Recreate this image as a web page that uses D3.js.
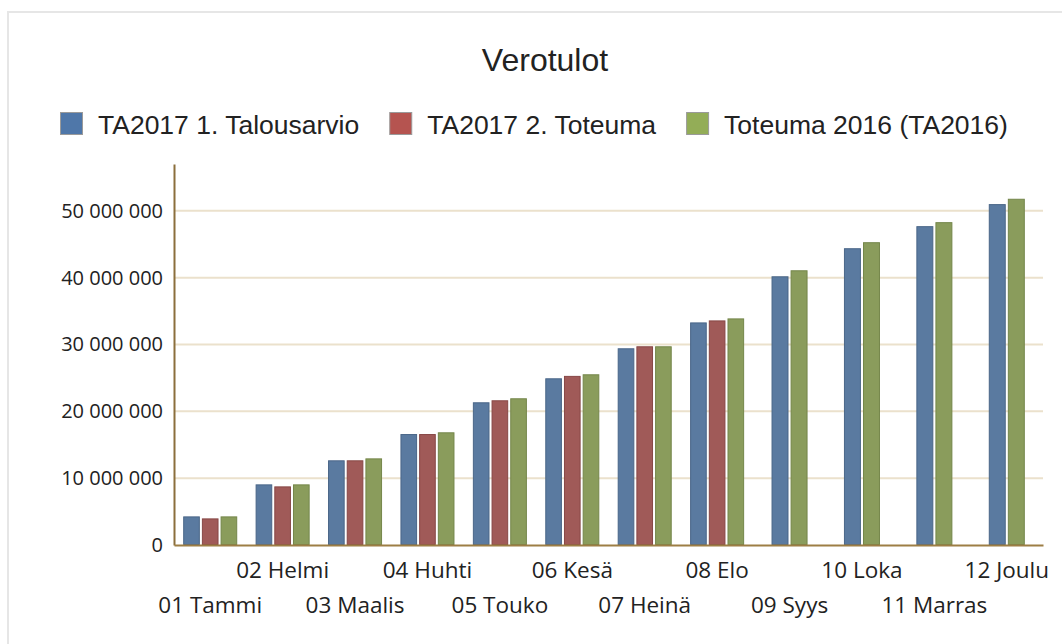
<!DOCTYPE html>
<html>
<head>
<meta charset="utf-8">
<script src="https://cdn.jsdelivr.net/npm/d3@7"></script>
<style>
  body { margin: 0; background: #fff; }
  svg { display: block; }
</style>
</head>
<body>
<div id="chart"></div>
<script>
// data
const months = ["01 Tammi", "02 Helmi", "03 Maalis", "04 Huhti", "05 Touko", "06 Kesä",
                "07 Heinä", "08 Elo", "09 Syys", "10 Loka", "11 Marras", "12 Joulu"];
const seriesNames = ["TA2017 1. Talousarvio", "TA2017 2. Toteuma", "Toteuma 2016 (TA2016)"];
const talousarvio = [4280000, 9070000, 12670000, 16600000, 21350000, 24940000,
                     29430000, 33300000, 40200000, 44400000, 47700000, 51000000];
const toteuma = [3980000, 8770000, 12670000, 16600000, 21650000, 25300000,
                 29730000, 33600000, null, null, null, null];
const toteuma2016 = [4280000, 9070000, 12960000, 16860000, 21950000, 25540000,
                     29730000, 33900000, 41100000, 45300000, 48300000, 51800000];
const yTicks = [0, 10000000, 20000000, 30000000, 40000000, 50000000];

const width = 1062;
const height = 644;
const margin = { top: 164, right: 19, bottom: 99, left: 174 };

const barColors = ["#5a7aa0", "#a05a58", "#8a9c5c"];
const barStroke = ["#4a6688", "#874746", "#74864a"];
const legendColors = ["#4f77a9", "#b55450", "#93ad57"];

const values = [talousarvio, toteuma, toteuma2016];

const fi = d3.formatLocale({ decimal: ",", thousands: " ", grouping: [3], currency: ["", " €"] });
const fmt = fi.format(",");

const svg = d3.select("#chart")
    .append("svg")
    .attr("width", width)
    .attr("height", height);

// panel border
svg.append("rect")
    .attr("x", 8).attr("y", 12)
    .attr("width", 1100).attr("height", 700)
    .attr("fill", "#fff")
    .attr("stroke", "#e6e6e6")
    .attr("stroke-width", 2);

// title
svg.append("text")
    .attr("x", 545)
    .attr("y", 71)
    .attr("text-anchor", "middle")
    .attr("font-family", "Liberation Sans, Arial, sans-serif")
    .attr("font-size", 32)
    .attr("fill", "#222")
    .text("Verotulot");

// scales
const y = d3.scaleLinear()
    .domain([0, 57000000])
    .range([height - margin.bottom, margin.top]);

const x = d3.scaleBand()
    .domain(months)
    .range([margin.left, width - margin.right])
    .paddingInner(0.254)
    .paddingOuter(0.127);

// gridlines
svg.append("g")
    .selectAll("line")
    .data(yTicks.filter(d => d > 0))
    .join("line")
        .attr("x1", margin.left)
        .attr("x2", width - margin.right)
        .attr("y1", d => y(d))
        .attr("y2", d => y(d))
        .attr("stroke", "#ebe1cc")
        .attr("stroke-width", 2);

// bars
const groups = svg.append("g")
    .selectAll("g")
    .data(months.map((m, i) => ({
        month: m,
        bars: values.map((v, s) => ({ s, value: v[i] })).filter(b => b.value != null)
    })))
    .join("g");

groups.each(function(d) {
    const n = d.bars.length;
    const w = x.bandwidth() * n / 3;
    const off = x(d.month) + (x.bandwidth() - w) / 2;
    const xi = d3.scaleBand()
        .domain(d.bars.map(b => b.s))
        .range([off, off + w])
        .paddingInner(0.11);
    d3.select(this).selectAll("rect")
        .data(d.bars)
        .join("rect")
            .attr("x", b => xi(b.s) + 0.5)
            .attr("y", b => y(b.value) + 0.5)
            .attr("width", xi.bandwidth() - 1)
            .attr("height", b => y(0) - y(b.value) - 1)
            .attr("fill", b => barColors[b.s])
            .attr("stroke", b => barStroke[b.s])
            .attr("stroke-width", 1);
});

// y-axis
const yAxis = svg.append("g")
    .attr("transform", `translate(${margin.left}, 0)`)
    .call(d3.axisLeft(y).tickValues(yTicks).tickFormat(fmt).tickSize(0).tickPadding(11));
yAxis.select(".domain").attr("stroke", "#8b6f3c").attr("stroke-width", 2);
yAxis.selectAll("text")
    .attr("font-family", "Open Sans, sans-serif")
    .attr("font-size", 20)
    .attr("fill", "#222");

// x-axis
const xAxis = svg.append("g")
    .attr("transform", `translate(0, ${y(0)})`)
    .call(d3.axisBottom(x).tickSize(0).tickPadding(0));
xAxis.select(".domain").attr("stroke", "#9d7e45").attr("stroke-width", 2);
xAxis.selectAll("text")
    .attr("font-family", "Open Sans, sans-serif")
    .attr("font-size", 22.5)
    .attr("fill", "#222")
    .attr("dy", null)
    .attr("y", (d, i) => i % 2 === 1 ? 33 : 68);

// legend
const legend = svg.append("g")
    .attr("font-family", "Liberation Sans, Arial, sans-serif")
    .attr("font-size", 26.5);
let lx = 60;
seriesNames.forEach((name, i) => {
    legend.append("rect")
        .attr("x", lx + 0.5).attr("y", 112.5)
        .attr("width", 22).attr("height", 22)
        .attr("fill", legendColors[i])
        .attr("stroke", "#9a9a9a")
        .attr("stroke-width", 1);
    const t = legend.append("text")
        .attr("x", lx + 38)
        .attr("y", 134)
        .attr("fill", "#222")
        .text(name);
    lx += 38 + t.node().getComputedTextLength() + 30;
});
</script>
</body>
</html>
